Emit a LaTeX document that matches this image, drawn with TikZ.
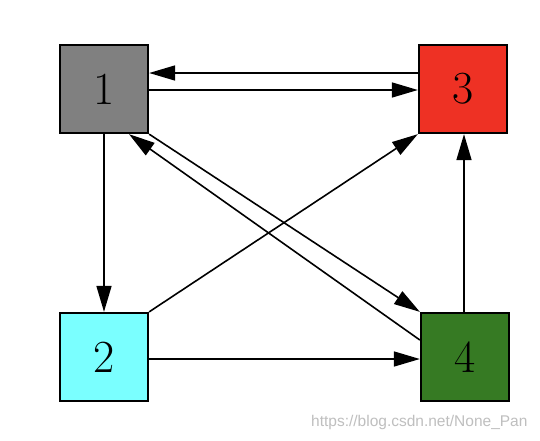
\documentclass[tikz,border=0pt]{standalone}
\usepackage{fontspec}
\newfontfamily\wmfont{Liberation Sans}
\usetikzlibrary{arrows.meta,calc}
\definecolor{cgray}{HTML}{808080}
\definecolor{cred}{HTML}{EE3124}
\definecolor{ccyan}{HTML}{7AFFFF}
\definecolor{cgreen}{HTML}{367A23}
\tikzset{
  box/.style={draw=black, line width=1.8pt, minimum size=88.5pt, inner sep=0pt,
    font=\fontsize{46}{50}\selectfont},
  arr/.style={line width=1.6pt, -{Triangle[length=26pt,width=15pt]}},
}
\begin{document}
\begin{tikzpicture}[x=1pt,y=-1pt]
\path[use as bounding box, fill=white] (0,0) rectangle (540,440);
\node[box, fill=cgray] (n1) at (104,89) {1};
\node[box, fill=cred] (n3) at (463,89) {3};
\node[box, fill=ccyan] (n2) at (104,357) {2};
\node[box, fill=cgreen] (n4) at (465,357) {4};
\draw[arr] ($(n3.west)+(0,-16)$) -- ($(n1.east)+(0,-16)$);
\draw[arr] ($(n1.east)+(0,1)$) -- ($(n3.west)+(0,1)$);
\draw[arr] (n1.south) -- (n2.north);
\draw[arr] (n2.north east) -- (n3.south west);
\draw[arr] ($(n2.east)+(0,2)$) -- ($(n4.west)+(0,2)$);
\draw[arr] ($(n4.north)+(-1,0)$) -- ($(n3.south)+(1,0)$);
\draw[arr] (n1.south east) -- (n4.north west);
\draw[arr] ($(n4.west)+(0,-17)$) -- ($(n1.south)+(25,0)$);
\node[text=black!25, font=\wmfont\fontsize{15.5}{17}\selectfont, anchor=east] (wm) at (531,422) {https://blog.csdn.net/None\_Pan};
\end{tikzpicture}
\end{document}
